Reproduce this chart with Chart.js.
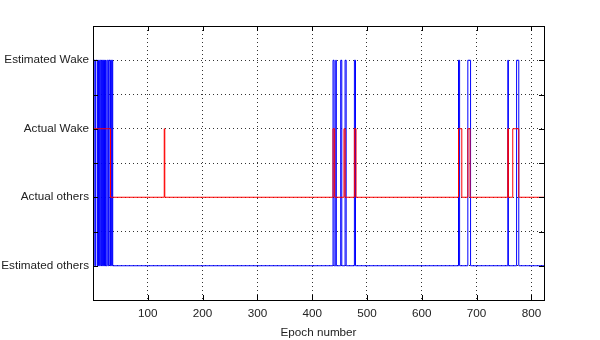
<!DOCTYPE html>
<html>
<head>
<meta charset="utf-8">
<script src="https://cdn.jsdelivr.net/npm/chart.js@4/dist/chart.umd.min.js"></script>
<style>
  body { margin: 0; background: #ffffff; }
  canvas { display: block; }
</style>
</head>
<body>
<canvas id="epochChart" width="600" height="340"></canvas>
<script>
/* --------------- Data : epoch where the state changes + new state --------------------- */
// 0 = Estimated others, 1 = Actual others, 2 = Actual Wake, 3 = Estimated Wake
var stateLabels = ["Estimated others", "Actual others", "Actual Wake", "Estimated Wake"];

var estChange = [0, 1, 2, 4, 5, 8, 9, 10, 12, 14, 15, 16, 17, 18, 19, 20, 21, 22, 23, 24,
  26, 28, 29, 31, 32, 34, 35, 36, 438, 440, 443, 444, 452, 454, 460, 462, 477, 479,
  667, 669, 684, 689, 757, 758, 773, 777, 823];
var estValue = [3, 0, 3, 0, 3, 0, 3, 0, 3, 0, 3, 0, 3, 0, 3, 0, 3, 0, 3, 0,
  3, 0, 3, 0, 3, 0, 3, 0, 3, 0, 3, 0, 3, 0, 3, 0, 3, 0,
  3, 0, 3, 0, 3, 0, 3, 0, 0];

var actChange = [0, 32, 130, 131, 438, 441, 458, 460, 477, 480, 667, 673, 684, 688, 757, 758, 766, 777, 823];
var actValue = [2, 1, 2, 1, 2, 1, 2, 1, 2, 1, 2, 1, 2, 1, 2, 1, 2, 1, 1];

var xTicks = [100, 200, 300, 400, 500, 600, 700, 800];

function toPoints(xs, ys) {
  var pts = [];
  for (let i = 0; i < xs.length; i++) {
    pts.push({ x: xs[i], y: ys[i] });
  }
  return pts;
}

/* --------------- Box + inward ticks, matlab style --------------------- */
var boxPlugin = {
  id: "box",
  afterDatasetsDraw(chart) {
    var ctx = chart.ctx;
    var a = chart.chartArea;
    var sx = chart.scales.x;
    var sy = chart.scales.y;
    ctx.save();
    ctx.strokeStyle = "#000000";
    ctx.lineWidth = 1;
    ctx.beginPath();
    sx.ticks.forEach(function (t) {
      var px = Math.round(sx.getPixelForValue(t.value)) + 0.5;
      ctx.moveTo(px, a.bottom); ctx.lineTo(px, a.bottom - 5);
      ctx.moveTo(px, a.top); ctx.lineTo(px, a.top + 5);
    });
    sy.ticks.forEach(function (t) {
      var py = Math.round(sy.getPixelForValue(t.value)) + 0.5;
      ctx.moveTo(a.left, py); ctx.lineTo(a.left + 5, py);
      ctx.moveTo(a.right, py); ctx.lineTo(a.right - 5, py);
    });
    ctx.stroke();
    ctx.strokeRect(Math.round(a.left) + 0.5, Math.round(a.top) + 0.5,
      Math.round(a.right - a.left), Math.round(a.bottom - a.top));
    ctx.restore();
  }
};

Chart.defaults.font.family = "Arial, 'Liberation Sans', sans-serif";
Chart.defaults.font.size = 11.7;
Chart.defaults.color = "#222222";

var epochChart = new Chart(document.getElementById("epochChart"), {
  type: "line",
  plugins: [boxPlugin],
  data: {
    datasets: [
      {
        label: "Estimated",
        data: toPoints(estChange, estValue),
        borderColor: "#0000ff",
        borderWidth: 1,
        stepped: true,
        pointRadius: 0,
        fill: false,
        order: 2,
      },
      {
        label: "Actual",
        data: toPoints(actChange, actValue),
        borderColor: "#ff0000",
        borderWidth: 1,
        stepped: true,
        pointRadius: 0,
        fill: false,
        order: 1,
      },
    ],
  },
  options: {
    responsive: false,
    animation: false,
    layout: { padding: { left: 0, right: 56, top: 26, bottom: 0 } },
    plugins: {
      legend: { display: false },
      tooltip: { enabled: false },
    },
    scales: {
      x: {
        type: "linear",
        min: 0,
        max: 823,
        afterBuildTicks: function (s) {
          s.ticks = xTicks.map(function (v) { return { value: v }; });
        },
        afterFit: function (s) { s.height = 40; },
        border: { display: false, dash: [1, 3] },
        grid: { color: "#333333", lineWidth: 1, drawTicks: false },
        ticks: { padding: 7, maxRotation: 0 },
        title: { display: true, text: "Epoch number", padding: { top: 3, bottom: 0 }, color: "#222222" },
      },
      y: {
        min: -0.5,
        max: 3.5,
        afterFit: function (s) { s.width = 93; },
        border: { display: false, dash: [1, 3] },
        grid: { color: "#333333", lineWidth: 1, drawTicks: false },
        ticks: {
          stepSize: 0.5,
          padding: 4,
          callback: function (v) {
            return Number.isInteger(v) ? stateLabels[v] : "";
          },
        },
      },
    },
  },
});
</script>
</body>
</html>
